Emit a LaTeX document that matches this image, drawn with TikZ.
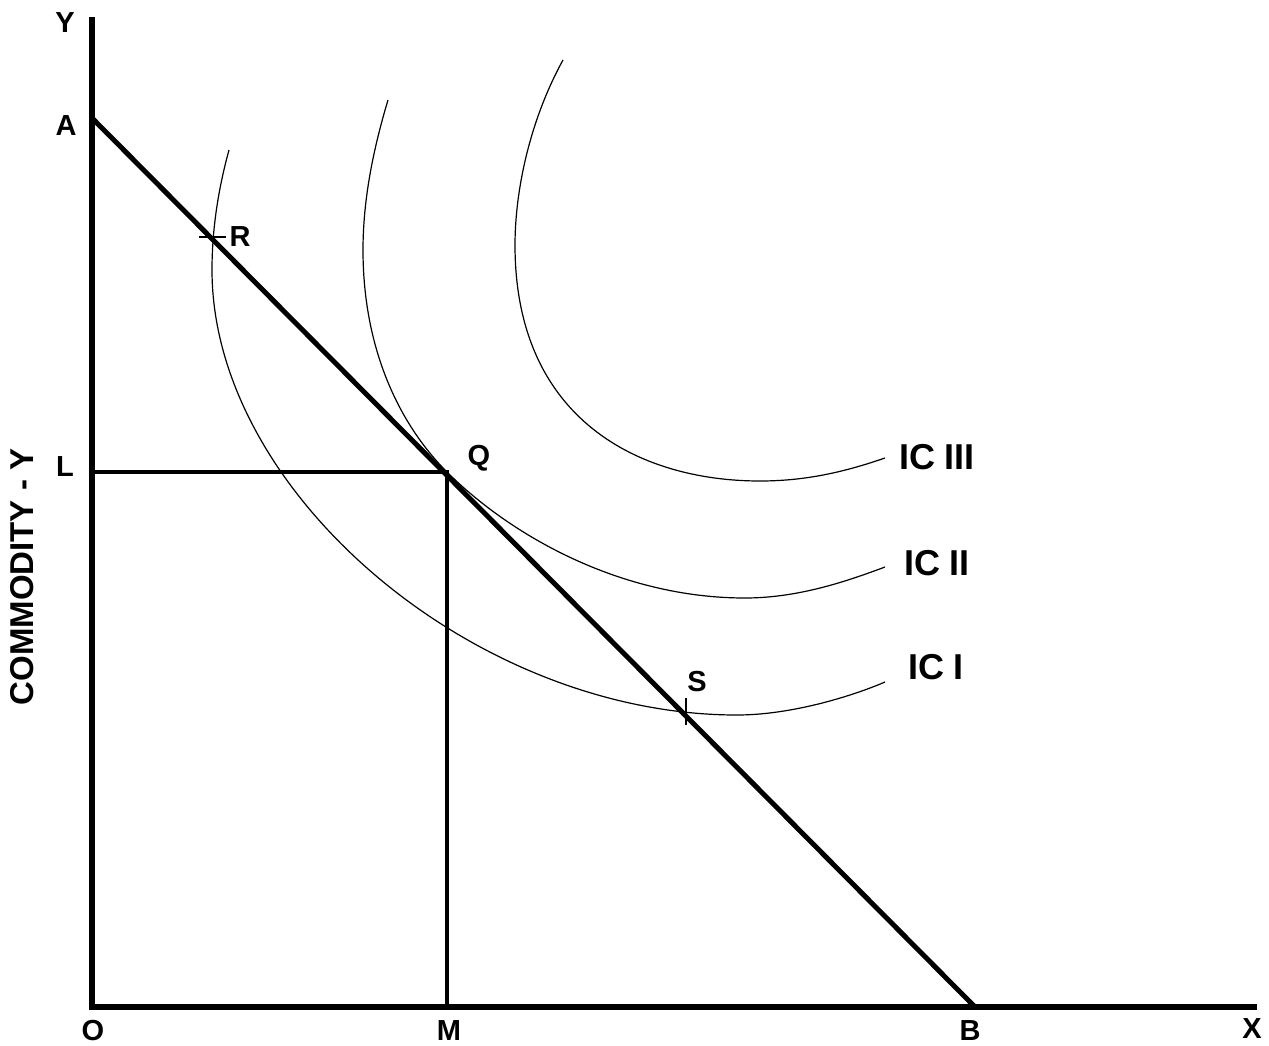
\documentclass[tikz,border=0pt]{standalone}
\usepackage{fontspec}
\setmainfont{Liberation Sans}
\usetikzlibrary{calc}
\begin{document}
\begin{tikzpicture}[x=1pt,y=-1pt,
  axis/.style={line width=5.5pt},
  budget/.style={line width=5pt},
  guide/.style={line width=4.5pt},
  curve/.style={line width=1.2pt},
  lbl/.style={font=\fontsize{29}{29}\selectfont\bfseries, inner sep=0pt},
  iclbl/.style={font=\fontsize{36}{36}\selectfont\bfseries, inner sep=0pt}]
\useasboundingbox (0,0) rectangle (1269,1045);
\coordinate (O) at (92,1007);
\coordinate (Ytop) at (92,17);
\coordinate (Xend) at (1257,1007);
\coordinate (A) at (92,118);
\coordinate (B) at (975,1007);
\coordinate (Lp) at (92,472);
\coordinate (Q) at (447,472);
\coordinate (Mp) at (447,1007);
\coordinate (R) at (211,237);
\coordinate (S) at (686,713);
% indifference curves
\draw[curve] (229,150) .. controls (218,190) and (212,230) .. (212,270)
  .. controls (212,492) and (474,715) .. (737,715)
  .. controls (790,715) and (850,697) .. (885,682);
\draw[curve] (388,100) .. controls (373,150) and (363,200) .. (363,250)
  .. controls (363,350) and (400,425) .. (Q)
  .. controls (510,535) and (620,598) .. (745,598)
  .. controls (800,598) and (850,580) .. (885,567);
\draw[curve] (563,60) .. controls (530,120) and (515,190) .. (515,245)
  .. controls (515,420) and (640,481) .. (760,481)
  .. controls (810,481) and (850,470) .. (885,458);
% ticks at R and S
\draw[curve] ($(R)+(-12,0)$) -- ($(R)+(15,0)$);
\draw[curve] ($(S)+(0,-15)$) -- ($(S)+(0,12)$);
% lines
\draw[guide] (Lp) -- (Q) -- (Mp);
\draw[budget] (A) -- (B);
\draw[axis] (Ytop) -- (O) -- (Xend);
% labels
\node[lbl] (tY) at (65,23) {Y};
\node[lbl] (tA) at (66,126) {A};
\node[lbl] (tL) at (65,467) {L};
\node[lbl] (tQ) at (479,458) {Q};
\node[lbl] (tR) at (240,237) {R};
\node[lbl] (tS) at (697,682) {S};
\node[iclbl] (t3) at (937,457) {IC III};
\node[iclbl] (t2) at (937,563) {IC II};
\node[iclbl] (t1) at (936,667) {IC I};
\node[lbl] (tO) at (93,1031) {O};
\node[lbl] (tM) at (449,1031) {M};
\node[lbl] (tB) at (970,1031) {B};
\node[lbl] (tX) at (1252,1029) {X};
\node[rotate=90, inner sep=0pt, font=\fontsize{33}{33}\selectfont\bfseries] (ty) at (22,577) {COMMODITY - Y};
\end{tikzpicture}
\end{document}
